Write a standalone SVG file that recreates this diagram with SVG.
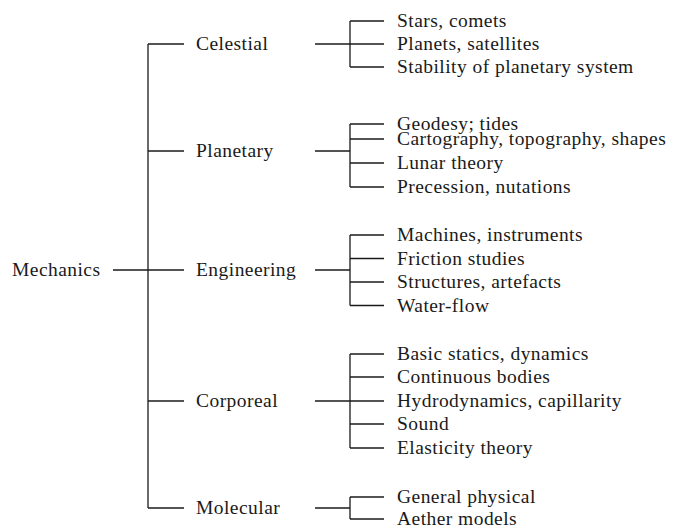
<svg xmlns="http://www.w3.org/2000/svg" width="694" height="527" viewBox="0 0 694 527">
<style>
text{font-family:"Liberation Serif","DejaVu Serif",serif;font-size:19.5px;fill:#1a1a1a;letter-spacing:0.45px}
.c line,.c path{stroke:#1a1a1a;stroke-width:1.3;fill:none}
</style>
<rect width="694" height="527" fill="#fff"/>
<g class="c" id="connectors">
<line x1="113" y1="270" x2="184" y2="270"/>
<line x1="148" y1="44" x2="148" y2="508"/>
<line x1="148" y1="44" x2="184" y2="44"/>
<line x1="148" y1="151" x2="184" y2="151"/>
<line x1="148" y1="401" x2="184" y2="401"/>
<line x1="148" y1="508" x2="184" y2="508"/>
<line x1="315" y1="44" x2="350" y2="44"/>
<line x1="350" y1="21" x2="350" y2="67"/>
<line x1="350" y1="21" x2="384" y2="21"/>
<line x1="350" y1="44" x2="384" y2="44"/>
<line x1="350" y1="67" x2="384" y2="67"/>
<line x1="315" y1="151" x2="350" y2="151"/>
<line x1="350" y1="124" x2="350" y2="187"/>
<line x1="350" y1="124" x2="384" y2="124"/>
<line x1="350" y1="139" x2="384" y2="139"/>
<line x1="350" y1="163" x2="384" y2="163"/>
<line x1="350" y1="187" x2="384" y2="187"/>
<line x1="315" y1="270" x2="350" y2="270"/>
<line x1="350" y1="235" x2="350" y2="305.5"/>
<line x1="350" y1="235" x2="384" y2="235"/>
<line x1="350" y1="258.5" x2="384" y2="258.5"/>
<line x1="350" y1="282" x2="384" y2="282"/>
<line x1="350" y1="305.5" x2="384" y2="305.5"/>
<line x1="315" y1="401" x2="350" y2="401"/>
<line x1="350" y1="354" x2="350" y2="448"/>
<line x1="350" y1="354" x2="384" y2="354"/>
<line x1="350" y1="377" x2="384" y2="377"/>
<line x1="350" y1="401" x2="384" y2="401"/>
<line x1="350" y1="424" x2="384" y2="424"/>
<line x1="350" y1="448" x2="384" y2="448"/>
<line x1="315" y1="508" x2="350" y2="508"/>
<line x1="350" y1="497" x2="350" y2="519"/>
<line x1="350" y1="497" x2="384" y2="497"/>
<line x1="350" y1="519" x2="384" y2="519"/>
</g>
<g id="mechanics"><text x="12" y="276">Mechanics</text></g>
<g id="celestial"><text x="196" y="50">Celestial</text></g>
<g id="planetary"><text x="196" y="157">Planetary</text></g>
<g id="engineering"><text x="196" y="276">Engineering</text></g>
<g id="corporeal"><text x="196" y="407">Corporeal</text></g>
<g id="molecular"><text x="196" y="514">Molecular</text></g>
<g id="celestial-items">
<text x="397" y="27">Stars, comets</text>
<text x="397" y="50">Planets, satellites</text>
<text x="397" y="73">Stability of planetary system</text>
</g>
<g id="planetary-items">
<text x="397" y="130">Geodesy; tides</text>
<text x="397" y="145">Cartography, topography, shapes</text>
<text x="397" y="169">Lunar theory</text>
<text x="397" y="193">Precession, nutations</text>
</g>
<g id="engineering-items">
<text x="397" y="241">Machines, instruments</text>
<text x="397" y="264.5">Friction studies</text>
<text x="397" y="288">Structures, artefacts</text>
<text x="397" y="311.5">Water-flow</text>
</g>
<g id="corporeal-items">
<text x="397" y="360">Basic statics, dynamics</text>
<text x="397" y="383">Continuous bodies</text>
<text x="397" y="407">Hydrodynamics, capillarity</text>
<text x="397" y="430">Sound</text>
<text x="397" y="454">Elasticity theory</text>
</g>
<g id="molecular-items">
<text x="397" y="503">General physical</text>
<text x="397" y="524.5">Aether models</text>
</g>
</svg>
